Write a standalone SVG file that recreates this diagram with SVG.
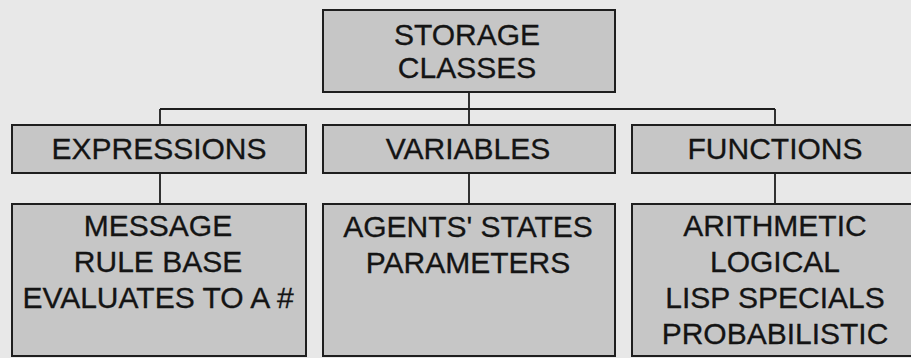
<svg xmlns="http://www.w3.org/2000/svg" width="911" height="358" viewBox="0 0 911 358">
<style>
.box{fill:#c6c6c6;stroke:#1e1e1e;stroke-width:2}
.t{font-family:"Liberation Sans",Arial,sans-serif;font-size:30px;fill:#141414;text-anchor:middle;stroke:#141414;stroke-width:0.3}
.c{fill:none;stroke:#1e1e1e;stroke-width:1.8}
</style>
<rect x="0" y="0" width="911" height="358" fill="#e8e8e8"/>
<g id="connectors">
<path class="c" d="M469 92 V109 M160 109 H775 M160 109 V125 M469 109 V125 M775 109 V125"/>
<path class="c" d="M160 173 V204 M469 173 V204 M775 173 V204"/>
</g>
<g id="storage-classes">
<rect class="box" x="323" y="10" width="292" height="82"/>
<text class="t" x="467" y="45">STORAGE</text>
<text class="t" x="467" y="78">CLASSES</text>
</g>
<g id="expressions">
<rect class="box" x="12" y="125" width="294" height="48"/>
<text class="t" x="159" y="159">EXPRESSIONS</text>
</g>
<g id="variables">
<rect class="box" x="323" y="125" width="292" height="48"/>
<text class="t" x="468" y="159">VARIABLES</text>
</g>
<g id="functions">
<rect class="box" x="632" y="125" width="290" height="48"/>
<text class="t" x="775" y="159">FUNCTIONS</text>
</g>
<g id="expressions-detail">
<rect class="box" x="12" y="204" width="294" height="152"/>
<text class="t" x="158" y="236">MESSAGE</text>
<text class="t" x="158" y="272">RULE BASE</text>
<text class="t" x="158" y="308">EVALUATES TO A #</text>
</g>
<g id="variables-detail">
<rect class="box" x="323" y="204" width="292" height="152"/>
<text class="t" x="468" y="237">AGENTS' STATES</text>
<text class="t" x="468" y="273">PARAMETERS</text>
</g>
<g id="functions-detail">
<rect class="box" x="632" y="204" width="290" height="152"/>
<text class="t" x="775" y="236">ARITHMETIC</text>
<text class="t" x="775" y="272">LOGICAL</text>
<text class="t" x="775" y="308">LISP SPECIALS</text>
<text class="t" x="775" y="344">PROBABILISTIC</text>
</g>
</svg>
